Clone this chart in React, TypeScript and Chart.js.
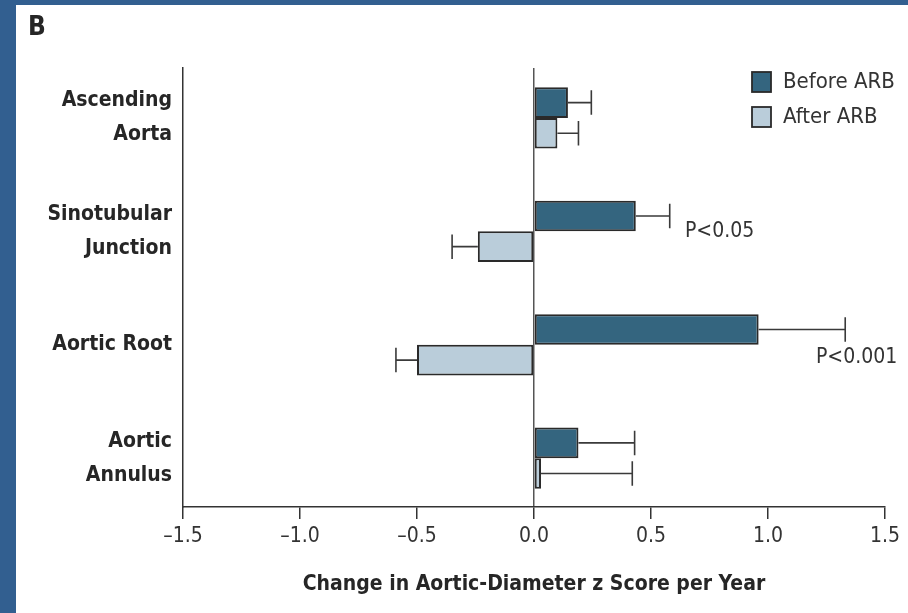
import React, { useEffect, useRef } from 'react';
import { Chart, registerables } from 'chart.js';

Chart.register(...registerables);

// ---------- data ----------
const categories: string[][] = [
  ['Ascending', 'Aorta'],
  ['Sinotubular', 'Junction'],
  ['Aortic Root'],
  ['Aortic', 'Annulus'],
];
const categoryIndex = [0, 1, 2, 3];
const seriesLabels = ['Before ARB', 'After ARB'];
const beforeValues = [0.145, 0.435, 0.96, 0.19];
const afterValues = [0.1, -0.24, -0.5, 0.03];
const beforeErrorEnds = [0.245, 0.58, 1.33, 0.43];
const afterErrorEnds = [0.19, -0.35, -0.59, 0.42];
const xTickValues = [-1.5, -1.0, -0.5, 0.0, 0.5, 1.0, 1.5];
const pValueNotes = [
  { text: 'P<0.05', x: 0.645, category: 1.0 },
  { text: 'P<0.001', x: 1.205, category: 2.11 },
];
const xAxisTitle = 'Change in Aortic-Diameter z Score per Year';
const panelLabel = 'B';

// ---------- styles ----------
const FONT = "'Liberation Sans Narrow', 'DejaVu Sans Condensed', 'Liberation Sans', sans-serif";
const BEFORE_COLOR = '#34657f';
const AFTER_COLOR = '#bacdda';
const EDGE = '#2a2a2a';
const TEXT = '#262626';

const overlayPlugin = {
  id: 'overlay',
  afterDatasetsDraw(chart: any) {
    const ctx = chart.ctx;
    const xs = chart.scales.x;
    const ys = chart.scales.y;
    const errSets = [beforeErrorEnds, afterErrorEnds];
    chart.data.datasets.forEach((_ds: any, di: number) => {
      const meta = chart.getDatasetMeta(di);
      meta.data.forEach((el: any, i: number) => {
        const { x, y, height } = el.getProps(['x', 'y', 'height'], true);
        const ex = xs.getPixelForValue(errSets[di][i]);
        const cap = height * 0.8;
        ctx.save();
        ctx.strokeStyle = '#3a3a3a';
        ctx.lineWidth = 1.6;
        ctx.beginPath();
        ctx.moveTo(x, y);
        ctx.lineTo(ex, y);
        ctx.moveTo(ex, y - cap / 2);
        ctx.lineTo(ex, y + cap / 2);
        ctx.stroke();
        ctx.restore();
      });
    });
    ctx.save();
    ctx.font = `21px ${FONT}`;
    ctx.fillStyle = '#333';
    ctx.textAlign = 'left';
    ctx.textBaseline = 'middle';
    pValueNotes.forEach((n) => {
      ctx.fillText(n.text, xs.getPixelForValue(n.x), ys.getPixelForValue(n.category));
    });
    ctx.restore();
  },
  afterDraw(chart: any) {
    const ctx = chart.ctx;
    const area = chart.chartArea;
    ctx.save();
    const colors = [BEFORE_COLOR, AFTER_COLOR];
    const bx = area.right - 133;
    seriesLabels.forEach((lab, i) => {
      const by = area.top + 4 + i * 35;
      ctx.fillStyle = colors[i];
      ctx.fillRect(bx, by, 19, 20);
      ctx.strokeStyle = EDGE;
      ctx.lineWidth = 1.8;
      ctx.strokeRect(bx, by, 19, 20);
      ctx.fillStyle = '#333';
      ctx.font = `22px ${FONT}`;
      ctx.textAlign = 'left';
      ctx.textBaseline = 'middle';
      ctx.fillText(lab, bx + 31, by + 10);
    });
    ctx.fillStyle = TEXT;
    ctx.font = `bold 26px ${FONT}`;
    ctx.textBaseline = 'top';
    ctx.fillText(panelLabel, 12, 10);
    ctx.restore();
  },
};

export default function App() {
  const canvasRef = useRef<HTMLCanvasElement | null>(null);

  useEffect(() => {
    document.body.style.margin = '0';
    const canvas = canvasRef.current;
    if (!canvas) return;
    const chart = new Chart(canvas, {
      type: 'bar',
      data: {
        datasets: [
          {
            label: seriesLabels[0],
            data: categoryIndex.map((c, i) => ({ x: beforeValues[i], y: c })),
            backgroundColor: BEFORE_COLOR,
            borderColor: EDGE,
            borderWidth: 2,
            borderSkipped: false,
          },
          {
            label: seriesLabels[1],
            data: categoryIndex.map((c, i) => ({ x: afterValues[i], y: c })),
            backgroundColor: AFTER_COLOR,
            borderColor: EDGE,
            borderWidth: 2,
            borderSkipped: false,
          },
        ] as any,
      },
      options: {
        indexAxis: 'y',
        animation: false,
        responsive: false,
        maintainAspectRatio: false,
        categoryPercentage: 0.54,
        barPercentage: 1.0,
        layout: { padding: { left: 0, top: 63, right: 23, bottom: 0 } },
        plugins: {
          legend: { display: false },
          tooltip: { enabled: false },
        },
        scales: {
          x: {
            type: 'linear',
            min: -1.5,
            max: 1.5,
            afterBuildTicks: (s: any) => {
              s.ticks = xTickValues.map((v) => ({ value: v }));
            },
            ticks: {
              callback: (v: any) => {
                const n = Number(v);
                return (n < 0 ? '\u2013' : '') + Math.abs(n).toFixed(1);
              },
              font: { family: FONT, size: 21 },
              color: '#333',
              padding: 5,
              maxRotation: 0,
            },
            grid: {
              color: (c: any) => (c.tick && c.tick.value === 0 ? '#555' : 'rgba(0,0,0,0)'),
              lineWidth: 1.5,
              tickColor: '#333',
              tickLength: 12,
              tickWidth: 1.5,
            },
            border: { display: true, color: '#333', width: 1.5 },
            title: {
              display: true,
              text: xAxisTitle,
              font: { family: FONT, size: 21, weight: 'bold' },
              color: TEXT,
              padding: { top: 0, bottom: 16 },
            },
            afterFit: (s: any) => {
              s.height = 106;
            },
          },
          y: {
            type: 'linear',
            reverse: true,
            offset: false,
            min: -0.44,
            max: 3.43,
            afterBuildTicks: (s: any) => {
              s.ticks = categoryIndex.map((v) => ({ value: v }));
            },
            ticks: {
              callback: (v: any) => categories[Number(v)],
              font: { family: FONT, size: 21, weight: 'bold', lineHeight: 1.62 },
              color: TEXT,
              padding: 11,
            },
            grid: { offset: false, drawOnChartArea: false, drawTicks: false },
            border: { display: true, color: '#333', width: 1.5 },
            afterFit: (s: any) => {
              s.width = 167;
            },
          },
        },
      } as any,
      plugins: [overlayPlugin],
    });
    return () => chart.destroy();
  }, []);

  return (
    <div style={{ position: 'relative', width: 908, height: 613, background: '#325f90', overflow: 'hidden' }}>
      <canvas
        ref={canvasRef}
        width={892}
        height={608}
        style={{ position: 'absolute', left: 16, top: 5, width: 892, height: 608, background: '#fff' }}
      />
    </div>
  );
}
